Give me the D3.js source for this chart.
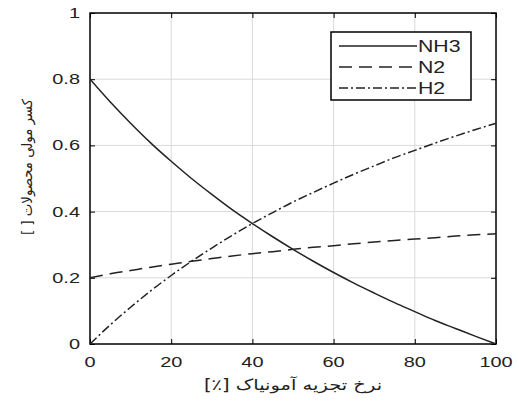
<!DOCTYPE html>
<html><head><meta charset="utf-8">
<script src="https://cdn.jsdelivr.net/npm/d3@7"></script>
<style>body{margin:0;background:#fff}</style>
</head><body><svg id="c" width="519" height="401"></svg>
<script>
const conversion = [0,5,10,15,20,25,30,35,40,45,50,55,60,65,70,75,80,85,90,95,100];
const nh3 = [0.800,0.731,0.667,0.607,0.552,0.500,0.452,0.406,0.364,0.324,0.286,0.250,0.216,0.184,0.154,0.125,0.098,0.071,0.047,0.023,0.000];
const n2  = [0.200,0.212,0.222,0.232,0.241,0.250,0.258,0.266,0.273,0.279,0.286,0.292,0.297,0.303,0.308,0.313,0.317,0.321,0.326,0.330,0.333];
const h2  = [0.000,0.058,0.111,0.161,0.207,0.250,0.290,0.328,0.364,0.397,0.429,0.458,0.486,0.513,0.538,0.563,0.585,0.607,0.628,0.648,0.667];
const seriesNames = ["NH3","N2","H2"];
const xTicks = [0,20,40,60,80,100];
const yTicks = [0,0.2,0.4,0.6,0.8,1];
const xTitle = "نرخ تجزیه آمونیاک [٪]";
const yTitle = "کسر مولی محصولات [ ]";

const svg = d3.select("#c");
const L=90, R=496, T=13, B=344;
const x = d3.scaleLinear().domain([0,100]).range([L,R]);
const y = d3.scaleLinear().domain([0,1]).range([B,T]);
const SX = 1.33;

// grid
const g = svg.append("g");
g.selectAll(".gx").data(xTicks.slice(1,-1)).enter().append("line")
  .attr("x1",d=>x(d)).attr("x2",d=>x(d)).attr("y1",T).attr("y2",B)
  .attr("stroke","#d9d9d9").attr("stroke-width",1);
g.selectAll(".gy").data(yTicks.slice(1,-1)).enter().append("line")
  .attr("y1",d=>y(d)).attr("y2",d=>y(d)).attr("x1",L).attr("x2",R)
  .attr("stroke","#d9d9d9").attr("stroke-width",1);

// axes with inward ticks
const axB = svg.append("g").attr("transform",`translate(0,${B})`).call(d3.axisTop(x).tickValues(xTicks).tickSize(5).tickFormat(""));
const axT = svg.append("g").attr("transform",`translate(0,${T})`).call(d3.axisBottom(x).tickValues(xTicks).tickSize(5).tickFormat(""));
const axL = svg.append("g").attr("transform",`translate(${L},0)`).call(d3.axisRight(y).tickValues(yTicks).tickSize(5).tickFormat(""));
const axR = svg.append("g").attr("transform",`translate(${R},0)`).call(d3.axisLeft(y).tickValues(yTicks).tickSize(5).tickFormat(""));
[axB,axT,axL,axR].forEach(a=>{a.select(".domain").remove();a.selectAll("line").attr("stroke","#000").attr("stroke-width",1);});
svg.append("rect").attr("x",L).attr("y",T).attr("width",R-L).attr("height",B-T)
  .attr("fill","none").attr("stroke","#000").attr("stroke-width",1.5);

// tick labels
svg.selectAll(".xl").data(xTicks).enter().append("text")
  .attr("transform",d=>`translate(${x(d)},${B+23}) scale(${SX},1)`)
  .attr("text-anchor","middle").attr("font-family","Liberation Sans, Arial, sans-serif")
  .attr("font-size",15).attr("fill","#222").text(d=>d);
svg.selectAll(".yl").data(yTicks).enter().append("text")
  .attr("transform",d=>`translate(${L-10},${y(d)+5}) scale(${SX},1)`)
  .attr("text-anchor","end").attr("font-family","Liberation Sans, Arial, sans-serif")
  .attr("font-size",15).attr("fill","#222").text(d=>d);

// titles
svg.append("text").attr("transform",`translate(${(L+R)/2},390) scale(1.3,1)`)
  .attr("text-anchor","middle").attr("direction","rtl").attr("font-family","DejaVu Sans")
  .attr("font-size",15).attr("fill","#222").text(xTitle);
svg.append("text").attr("transform",`translate(32,167) rotate(-90) scale(0.95,1)`)
  .attr("text-anchor","middle").attr("direction","rtl").attr("font-family","DejaVu Sans")
  .attr("font-size",14).attr("fill","#222").text(yTitle);

// lines
const data = [nh3,n2,h2];
const dashes = [null,"13,7","9,3,2,3"];
const line = d3.line().x((d,i)=>x(conversion[i])).y(d=>y(d)).curve(d3.curveMonotoneX);
const clip = svg.append("clipPath").attr("id","pc").append("rect").attr("x",L).attr("y",T).attr("width",R-L).attr("height",B-T);
data.forEach((s,k)=>{
  svg.append("path").datum(s).attr("d",line).attr("fill","none")
    .attr("stroke","#222").attr("stroke-width",1.5)
    .attr("stroke-dasharray",dashes[k]).attr("clip-path","url(#pc)");
});

// legend
const lg = svg.append("g");
lg.append("rect").attr("x",331).attr("y",32).attr("width",140).attr("height",68)
  .attr("fill","#fff").attr("stroke","#000").attr("stroke-width",1.5);
seriesNames.forEach((n,k)=>{
  const yy = 46 + k*21;
  lg.append("line").attr("x1",339).attr("x2",417).attr("y1",yy).attr("y2",yy)
    .attr("stroke","#222").attr("stroke-width",1.4).attr("stroke-dasharray",dashes[k]);
  lg.append("text").attr("transform",`translate(418,${yy+6}) scale(${SX},1)`)
    .attr("font-family","Liberation Sans, Arial, sans-serif").attr("font-size",16)
    .attr("fill","#222").text(n);
});
</script></body></html>
